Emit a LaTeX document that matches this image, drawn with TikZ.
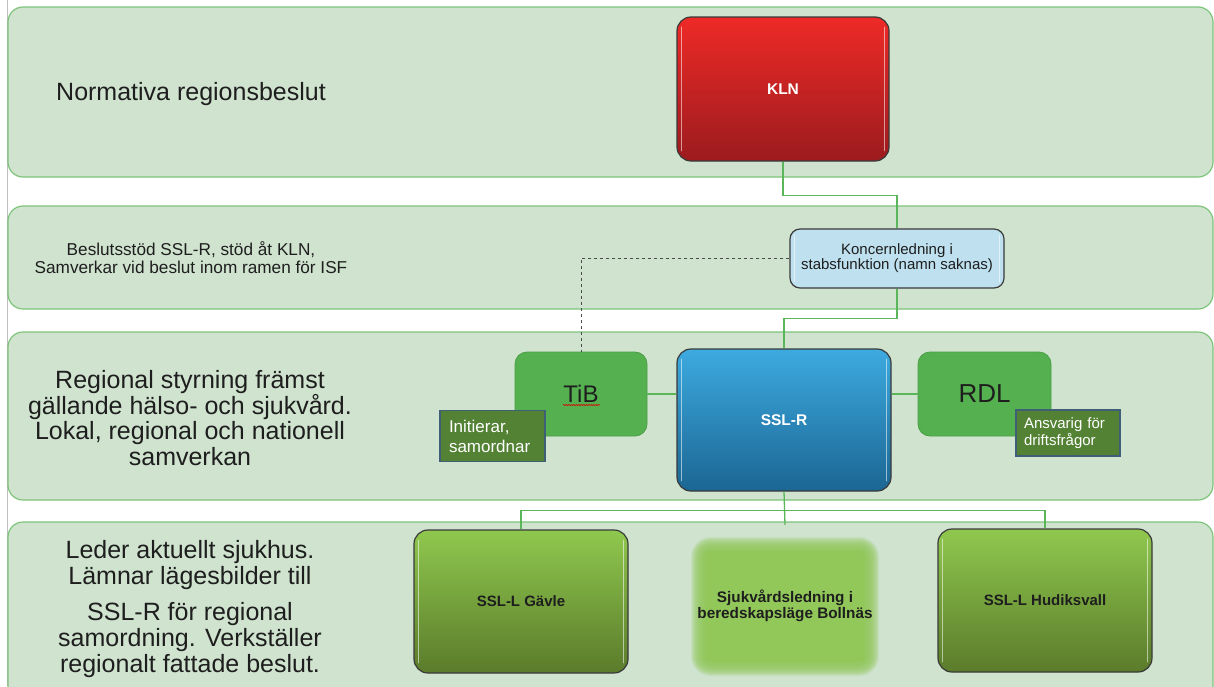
\documentclass[tikz,border=0pt]{standalone}
\usepackage{fontspec}
\setmainfont{Liberation Sans}
\usetikzlibrary{calc,decorations.pathmorphing}
\definecolor{bandfill}{HTML}{CFE3CF}
\definecolor{bandline}{HTML}{7DC47A}
\definecolor{conngreen}{HTML}{5BB65A}
\definecolor{klntop}{HTML}{EE2A27}
\definecolor{klnbot}{HTML}{9C1B1E}
\definecolor{bluetop}{HTML}{3DAAE0}
\definecolor{bluebot}{HTML}{1B6693}
\definecolor{greentop}{HTML}{8FC84E}
\definecolor{greenbot}{HTML}{5B7B2B}
\definecolor{koncfill}{HTML}{BEE0EF}
\definecolor{midgreen}{HTML}{55B150}
\definecolor{midgreenline}{HTML}{4A9E46}
\definecolor{notefill}{HTML}{548235}
\definecolor{noteline}{HTML}{3F5E78}
\definecolor{bollfill}{HTML}{92C85A}
\definecolor{boxline}{HTML}{3A3A3A}
\definecolor{textdark}{HTML}{1E1E1E}
\begin{document}
\begin{tikzpicture}[x=1pt,y=-1pt,
  band/.style={draw=bandline, fill=bandfill, line width=1.2pt, rounded corners=15pt},
  box/.style={draw=boxline, line width=1.2pt, rounded corners=14pt, inner sep=0pt, align=center},
  bigbox/.style={box, minimum width=214pt, minimum height=143pt},
  greenbox/.style={bigbox, top color=greentop, bottom color=greenbot, text=textdark,
     font=\bfseries\fontsize{15}{18}\selectfont},
  midbox/.style={draw=midgreenline, line width=0.8pt, fill=midgreen, rounded corners=12pt,
     minimum width=133pt, minimum height=84pt, inner sep=0pt, text=textdark},
  note/.style={draw=noteline, line width=1.2pt, fill=notefill, text=white, align=left,
     inner ysep=0pt},
  conn/.style={draw=conngreen, line width=1.3pt},
  hl/.style={draw=white, line width=1.6pt, opacity=0.55, line cap=round},
  bandtext/.style={inner sep=0pt, align=center, text=textdark}
]
\useasboundingbox (0,0) rectangle (1214,686);
\clip (0,0) rectangle (1214,686);
\fill[white] (0,0) rectangle (1214,686);
\draw[black!25, line width=0.8pt] (7.5,0) -- (7.5,686);

% bands
\draw[band] (8,7) rectangle (1213,177);
\draw[band] (8,206) rectangle (1213,309);
\draw[band] (8,332) rectangle (1213,500);
\draw[band] (8,522) rectangle (1213,712);

% band texts
\node[bandtext, anchor=west, font=\fontsize{25}{26}\selectfont] (t1) at (56,94) {Normativa regionsbeslut};
\node[bandtext, font=\fontsize{17.2}{18}\selectfont] (t2) at (191,257.5) {Beslutsstöd SSL-R, stöd åt KLN,\\Samverkar vid beslut inom ramen för ISF};
\node[bandtext, font=\fontsize{25}{25.7}\selectfont] (t3) at (190,418) {Regional styrning främst\\gällande hälso- och sjukvård.\\Lokal, regional och nationell\\samverkan};
\node[bandtext, font=\fontsize{25}{26}\selectfont] (t4) at (190,609) {Leder aktuellt sjukhus.\\Lämnar lägesbilder till\\[10pt]SSL-R för regional\\samordning. Verkställer\\regionalt fattade beslut.};

% main boxes
\node[box, top color=klntop, bottom color=klnbot, minimum width=212pt, minimum height=144pt,
  text=white, font=\bfseries\fontsize{15.5}{18}\selectfont] (kln) at (783,89) {KLN};
\node[box, fill=koncfill, rounded corners=10pt, minimum width=214pt, minimum height=59pt,
  text=textdark, font=\fontsize{15}{15}\selectfont] (konc) at (897,258.5) {Koncernledning i\\stabsfunktion (namn saknas)};
\node[box, top color=bluetop, bottom color=bluebot, minimum width=214pt, minimum height=142pt,
  text=white, font=\bfseries\fontsize{15.5}{18}\selectfont] (sslr) at (784,420) {SSL-R};

\node[midbox, minimum width=132pt, font=\fontsize{24}{24}\selectfont] (tib) at (581,394) {TiB};
\draw[red!85!black, line width=0.6pt, decorate, decoration={snake, amplitude=0.6pt, segment length=2.5pt}]
  ($(tib.center)+(-18,11)$) -- ($(tib.center)+(19,11)$);
\node[midbox, font=\fontsize{26}{26}\selectfont] (rdl) at (984.5,394) {RDL};

\node[note, text width=87pt, inner xsep=9pt, minimum height=51pt, font=\fontsize{17}{20}\selectfont] (ini) at (492.5,436) {Initierar,\\samordnar};
\node[note, text width=88pt, inner xsep=8pt, minimum height=46pt, font=\fontsize{15}{17}\selectfont] (ans) at (1068,433) {Ansvarig för\\driftsfrågor};

\node[greenbox] (gavle) at (521,601.5) {SSL-L Gävle};
\node[greenbox] (hud) at (1045,600.5) {SSL-L Hudiksvall};

% blurred Bollnäs box
\foreach \e in {0,...,14} {
  \fill[bollfill, opacity=0.16, rounded corners=6pt+\e pt] (705-\e,551-\e) rectangle (865+\e,662+\e);
}
\fill[bollfill, rounded corners=6pt] (705,551) rectangle (865,662);
\node[inner sep=0pt, align=center, minimum width=190pt, minimum height=162pt, text=textdark,
  font=\bfseries\fontsize{15.3}{15.5}\selectfont] (boll) at (785,606) {Sjukvårdsledning i\\beredskapsläge Bollnäs};

% glossy highlights
\foreach \n/\d in {kln/11, sslr/11, gavle/11, hud/11, konc/7} {
  \draw[hl] ($(\n.north west)+(5,\d)$) -- ($(\n.south west)+(5,-\d)$);
  \draw[hl] ($(\n.north east)+(-5,\d)$) -- ($(\n.south east)+(-5,-\d)$);
}

% connectors
\draw[conn] (kln.south) -- ++(0,34) -| (konc.north);
\draw[conn] (konc.south) -- ++(0,30) -| (sslr.north);
\draw[black!70, line width=0.8pt, dashed] (konc.west) -| (tib.north);
\draw[conn] (tib.east) -- (tib.east -| sslr.west);
\draw[conn] (rdl.west) -- (rdl.west -| sslr.east);
\draw[conn] (sslr.south) -- (boll.north);
\draw[conn] (gavle.north) -- ++(0,-19) -| (hud.north);
\end{tikzpicture}
\end{document}
